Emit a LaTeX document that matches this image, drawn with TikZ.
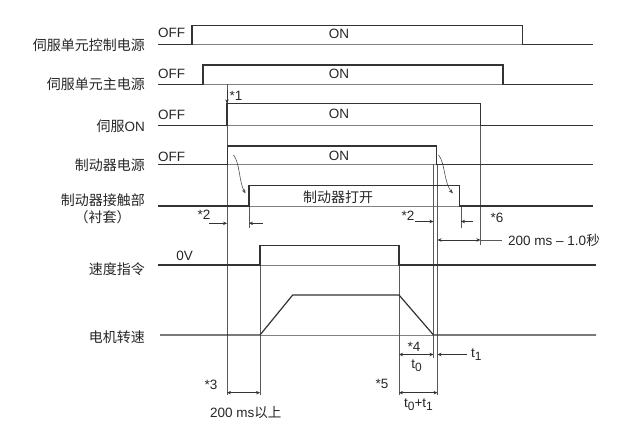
\documentclass[tikz,border=0pt]{standalone}
\usepackage{fontspec}
\setmainfont{Liberation Sans}
\newfontfamily\cjk{Noto Sans CJK SC}
\usetikzlibrary{arrows.meta}
\tikzset{
  sig/.style={draw=black!80, line width=1.2pt},
  base/.style={draw=black!50, line width=0.6pt},
  guide/.style={draw=black!65, line width=0.7pt},
  dim/.style={draw=black!80, line width=0.6pt, -{Stealth[length=4pt,width=3.5pt]}},
  ddim/.style={draw=black!80, line width=0.6pt, {Stealth[length=4pt,width=3.5pt]}-{Stealth[length=4pt,width=3.5pt]}},
  curv/.style={draw=black!70, line width=0.6pt, -{Stealth[length=4.5pt,width=3.5pt]}},
  lab/.style={anchor=east, inner sep=0pt, text=black!85, font=\cjk\fontsize{14}{15}\selectfont},
  txt/.style={inner sep=0pt, text=black!85, font=\fontsize{13.5}{15}\selectfont},
  ctxt/.style={inner sep=0pt, text=black!85, font=\cjk\fontsize{14}{15}\selectfont},
}
\newcommand{\sbs}[1]{\raisebox{-0.45ex}{\fontsize{12}{12}\selectfont #1}}
\begin{document}
\begin{tikzpicture}[x=1pt,y=-1pt]
\useasboundingbox (0,0) rectangle (627,427);
% row labels
\node[lab] (l1) at (145,45) {伺服单元控制电源};
\node[lab] (l2) at (145,84.5) {伺服单元主电源};
\node[lab] (l3) at (145,126) {伺服{\fontspec{Liberation Sans}\fontsize{13.5}{15}\selectfont ON}};
\node[lab] (l4) at (145,165) {制动器电源};
\node[lab] (l5) at (145,200) {制动器接触部};
\node[ctxt] (l5b) at (102.5,217) {（衬套）};
\node[lab] (l6) at (145,269.5) {速度指令};
\node[lab] (l7) at (145,337) {电机转速};
% OFF / ON texts
\node[txt, anchor=west] (off1) at (158,33) {OFF};
\node[txt, anchor=west] (off2) at (158,74) {OFF};
\node[txt, anchor=west] (off3) at (158,115) {OFF};
\node[txt, anchor=west] (off4) at (158,156.5) {OFF};
\node[txt] (zv) at (184.7,256) {0V};
\node[txt] (on1) at (339,34) {ON};
\node[txt] (on2) at (339,74) {ON};
\node[txt] (on3) at (339,113.5) {ON};
\node[txt] (on4) at (339,155.5) {ON};
\node[ctxt] (open) at (338,197) {制动器打开};
% baselines (thin) under ON regions
\draw[base] (192,44.5) -- (522.5,44.5);
\draw[base] (203,84.3) -- (503,84.3);
\draw[base] (227,125.3) -- (480.5,125.3);
\draw[base] (227.5,164.3) -- (436.5,164.3);
\draw[base] (249,206) -- (459.5,206);
\draw[base] (260,265) -- (399,265);
\draw[base] (260,335) -- (433.5,335);
% guide verticals
\draw[guide] (227,84.3) -- (227,395);
\draw[guide] (249,206) -- (249,228);
\draw[guide] (260,265) -- (260,395);
\draw[guide] (399,265) -- (399,395);
\draw[guide] (433.5,164.3) -- (433.5,358);
\draw[guide] (437.5,164.3) -- (437.5,395);
\draw[guide] (461,206) -- (461,228);
\draw[guide] (480.5,125.3) -- (480.5,245);
% signals
\draw[sig] (158,44.5) -- (192,44.5) -- (192,25.5) -- (522.5,25.5) -- (522.5,44.5) -- (593,44.5);
\draw[sig] (158,84.3) -- (203,84.3) -- (203,65) -- (503,65) -- (503,84.3) -- (593,84.3);
\draw[sig] (158,125.3) -- (227,125.3) -- (227,103.7) -- (480.5,103.7) -- (480.5,125.3) -- (593,125.3);
\draw[sig] (158,164.3) -- (227.5,164.3) -- (227.5,146) -- (436.5,146) -- (436.5,164.3) -- (593,164.3);
\draw[sig] (158,206) -- (249,206) -- (249,185.3) -- (459.5,185.3) -- (459.5,206) -- (593,206);
\draw[sig] (158,265) -- (260,265) -- (260,245.7) -- (399,245.7) -- (399,265) -- (596,265);
\draw[sig] (160,335) -- (260,335) -- (292.7,295) -- (399,295) -- (433.5,335) -- (596,335);
% *1 arrow
\coordinate (a1s) at (227,90);
\coordinate (a1e) at (227,103.5);
\draw[dim] (a1s) -- (a1e);
\node[txt, anchor=west] (s1) at (229.5,96) {*1};
% curved arrows
\coordinate (c1s) at (233.5,155);
\coordinate (c1e) at (245.5,193.5);
\draw[curv] (c1s) .. controls (240,163) and (239,182) .. (c1e);
\coordinate (c2s) at (438.5,155);
\coordinate (c2e) at (453,193.5);
\draw[curv] (c2s) .. controls (445,162) and (444,183) .. (c2e);
% *2 left
\coordinate (d2a) at (209,223.3);
\coordinate (d2b) at (227,223.3);
\coordinate (d2c) at (263,223.3);
\coordinate (d2d) at (249,223.3);
\draw[dim] (d2a) -- (d2b);
\draw[dim] (d2c) -- (d2d);
\node[txt] (s2a) at (204,215) {*2};
% *2 right
\coordinate (e2a) at (415,221.5);
\coordinate (e2b) at (433.5,221.5);
\coordinate (e2c) at (473,221.5);
\coordinate (e2d) at (461,221.5);
\draw[dim] (e2a) -- (e2b);
\draw[dim] (e2c) -- (e2d);
\node[txt] (s2b) at (408,216) {*2};
\node[txt] (s6) at (497,218) {*6};
% 200ms - 1.0s
\coordinate (f1) at (437.5,240);
\coordinate (f2) at (480.5,240);
\coordinate (f3) at (502,240);
\draw[ddim] (f1) -- (f2);
\draw[guide] (f2) -- (f3);
\node[txt, anchor=west] (ft) at (508,240) {200 ms – 1.0{\cjk 秒}};
% *4 t0
\coordinate (g1) at (399,354.5);
\coordinate (g2) at (433.5,354.5);
\draw[ddim] (g1) -- (g2);
\node[txt] (s4) at (414,346.5) {*4};
\node[txt] (t0) at (416.5,366) {t\sbs{0}};
\coordinate (h1) at (467,354.5);
\coordinate (h2) at (437.5,354.5);
\draw[dim] (h1) -- (h2);
\node[txt, anchor=west] (t1) at (471,354.5) {t\sbs{1}};
% *5
\coordinate (k1) at (399,392.7);
\coordinate (k2) at (437.5,392.7);
\draw[ddim] (k1) -- (k2);
\node[txt] (s5) at (382,384) {*5};
\node[txt] (t01) at (418.5,404.5) {t\sbs{0}+t\sbs{1}};
% *3
\coordinate (m1) at (227,392.7);
\coordinate (m2) at (260,392.7);
\draw[ddim] (m1) -- (m2);
\node[txt] (s3) at (211,385) {*3};
\node[txt] (ms200) at (245.7,412.5) {200 ms{\cjk 以上}};
\end{tikzpicture}
\end{document}
